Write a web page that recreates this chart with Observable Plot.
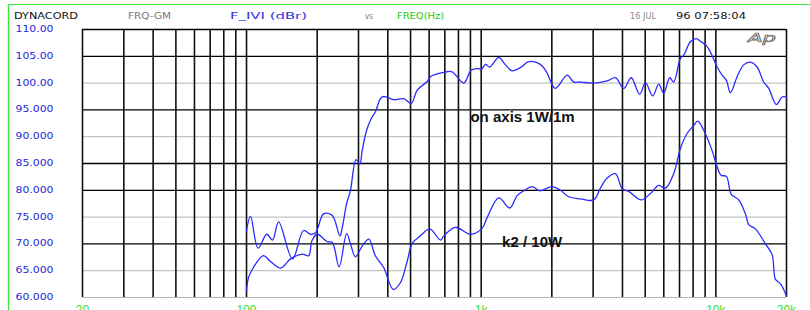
<!DOCTYPE html>
<html><head><meta charset="utf-8">
<script src="https://cdn.jsdelivr.net/npm/d3@7"></script>
<script src="https://cdn.jsdelivr.net/npm/@observablehq/plot@0.6"></script>
<style>
html,body{margin:0;padding:0;background:#fff;}
#chart{position:relative;width:810px;height:310px;overflow:hidden;}
</style></head><body><div id="chart"></div>
<script>
// On-axis response 1W/1m (Hz, dB)
const onAxisFreq = [100,104,112,122,129,137,157,175,187,197,213,232,250,256,267,277,293,304,311,325,340,354,372,384,424,468,503,534,589,608,693,752,843,906,977,1000,1043,1088,1188,1269,1355,1470,1594,1788,1897,2071,2324,2480,2648,3017,3441,3733,4050,4355,4738,5011,5382,5710,5998,6358,6612,7062,7295,7790,8264,8594,9116,9480,10124,10634,11092,11536,12318,13144,14040,14988,15986,16802,18114,19156,20000];
const onAxisDb   = [72.5,75.2,69.2,71.8,70.7,74.1,67.2,72.5,71.8,72.1,75.6,75.3,71.5,73.1,77.5,79.9,85.7,84.9,87.4,91.2,93.4,94.6,97.1,97.5,96.9,97.1,96.2,98.7,100.3,101.2,102.0,102.1,100.0,102.4,102.7,102.5,103.5,103.0,104.8,103.4,102.3,102.9,104.0,103.5,102.1,99.0,101.5,100.2,100.2,100.0,100.4,101.0,99.0,101.0,97.9,100.1,97.6,99.8,98.1,101.0,100.2,104.6,105.2,107.7,108.3,107.8,107.0,105.8,103.0,101.5,100.5,98.2,101.2,103.4,103.9,103.0,100.2,99.0,96.0,97.4,97.4];
// k2 distortion at 10W (Hz, dB)
const k2Freq = [100,102,107,118,126,140,154,173,184,190,200,221,232,248,267,277,291,311,332,354,384,422,453,484,508,551,604,671,693,777,900,1009,1060,1188,1323,1423,1519,1649,1776,2006,2162,2361,2648,3017,3222,3441,3733,3986,4253,4804,5262,5710,6096,6612,7062,7542,8049,8370,8878,9638,10124,10528,11092,11616,12516,13366,13804,14740,16264,17368,17942,18838,20000];
const k2Db   = [61.3,63.7,65.6,67.8,66.8,65.5,67.2,68.1,67.8,70.6,71.8,70.4,70.3,65.7,71.9,70.1,67.6,69.6,70.9,67.8,65.6,61.5,62.8,66.8,70.1,71.5,72.8,70.7,71.5,73.1,71.8,72.9,74.9,78.6,76.7,79.0,79.9,80.7,79.9,80.7,80.1,78.8,78.4,78.2,80.4,82.3,83.1,80.3,79.8,78.2,79.4,80.9,80.4,83.1,87.8,90.6,92.1,92.9,91.2,87.4,84.4,82.8,82.6,79.3,78.2,75.6,73.6,72.8,70.0,68.0,63.4,62.6,60.3];

const gridFreqs = [20,30,40,50,60,70,80,90,100,200,300,400,500,600,700,800,900,1000,2000,3000,4000,5000,6000,7000,8000,9000,10000,20000];
const blackLevels = [110,105,95,85,80,70];
const grayLevels = [100,90,75,65,60];
const yTicks = [110,105,100,95,90,85,80,75,70,65,60];
const yTickLabels = ["110.00","105.00","100.00","95.000","90.000","85.000","80.000","75.000","70.000","65.000","60.000"];
const xTicks = [20,100,1000,10000,20000];
const xTickLabels = ["20","100","1k","10k","20k"];
const annotations = [
  {label:"on axis 1W/1m", freq:900, db:93.6},
  {label:"k2 / 10W", freq:1228, db:70.4}
];
const headerTexts = ["DYNACORD","FRQ-GM","F_IVI (dBr)","vs","FREQ(Hz)","16 JUL","96 07:58:04"];
const headerColors = ["#111","#777","#3030e0","#777","#22cc22","#888","#111"];

const onAxis = onAxisFreq.map((f,i)=>({f, db:onAxisDb[i]}));
const k2 = k2Freq.map((f,i)=>({f, db:k2Db[i]}));

const svg = Plot.plot({
  width:810, height:310,
  marginLeft:82, marginRight:24, marginTop:29, marginBottom:13,
  style:{background:"#fff", fontFamily:"Liberation Sans, Arial, sans-serif", overflow:"visible"},
  x:{type:"log", domain:[20,20000]},
  y:{domain:[60,110]},
  marks:[
    Plot.ruleY(grayLevels,{stroke:"#b4b4b4", strokeWidth:1}),
    Plot.ruleY(blackLevels,{stroke:"#000", strokeWidth:1.3}),
    Plot.ruleX(gridFreqs,{stroke:"#111", strokeWidth:1.6}),
    Plot.line(onAxis,{x:"f", y:"db", stroke:"#2b2bff", strokeWidth:1.3, curve:"catmull-rom"}),
    Plot.line(k2,{x:"f", y:"db", stroke:"#2b2bff", strokeWidth:1.3, curve:"catmull-rom"}),
    Plot.text(annotations,{x:"freq", y:"db", text:"label", textAnchor:"start", fontWeight:"bold", fontSize:15, fontFamily:"Liberation Sans, Arial, sans-serif", fill:"#111"}),
    Plot.axisY({ticks:yTicks, tickFormat:d=>yTickLabels[yTicks.indexOf(d)], tickSize:0, tickPadding:29, fill:"#2424d8", fontSize:8, fontFamily:"DejaVu Sans", label:null}),
    Plot.axisX({ticks:xTicks, tickFormat:d=>xTickLabels[xTicks.indexOf(d)], tickSize:0, tickPadding:8, fill:"#33e033", fontSize:12, fontFamily:"Liberation Sans, Arial", label:null})
  ]
});

const s = d3.select(svg);
s.selectAll('g[aria-label="y-axis tick label"] text').attr("textLength",38).attr("lengthAdjust","spacingAndGlyphs");

// header (stretched bitmap-like text)
const hx = [14,128,230,365,397,630,676];
const hw = [64,43,77,8,47,26,70];
const hg = s.append("g").attr("font-family","DejaVu Sans").attr("font-size",8).attr("text-anchor","start");
headerTexts.forEach((t,i)=>{
  hg.append("text").attr("x",hx[i]).attr("y",19).attr("fill",headerColors[i])
    .attr("text-anchor","start")
    .attr("textLength",hw[i]).attr("lengthAdjust","spacingAndGlyphs").text(t);
});
// Ap logo
s.append("text").attr("x",748).attr("y",42).attr("text-anchor","start").attr("font-family","DejaVu Sans").attr("font-size",13)
  .attr("font-style","italic").attr("fill","none").attr("stroke","#666").attr("stroke-width",0.7)
  .attr("textLength",28).attr("lengthAdjust","spacingAndGlyphs").text("Ap");
// green frame lines
s.append("line").attr("x1",8).attr("x2",810).attr("y1",4.5).attr("y2",4.5).attr("stroke","#3ee63e").attr("stroke-width",1.2);
s.append("line").attr("x1",8.5).attr("x2",8.5).attr("y1",4.5).attr("y2",310).attr("stroke","#3ee63e").attr("stroke-width",1.4);

document.getElementById("chart").appendChild(svg);
</script>
</body></html>
